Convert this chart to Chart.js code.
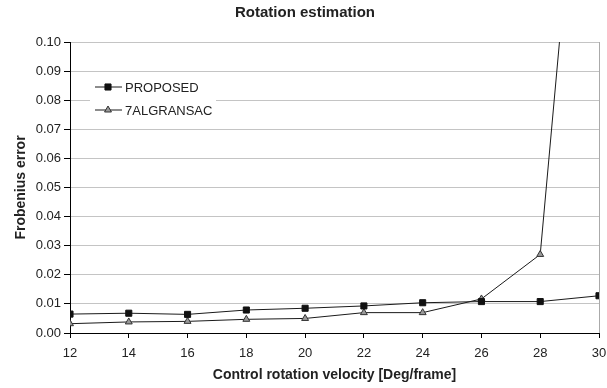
<!DOCTYPE html>
<html>
<head>
<meta charset="utf-8">
<script src="https://cdn.jsdelivr.net/npm/chart.js@4/dist/chart.umd.min.js"></script>
<style>
  body { margin: 0; background: #fff; }
  #rot { display: block; }
</style>
</head>
<body>
<canvas id="rot" width="607" height="388"></canvas>
<script>
// control rotation velocity (deg/frame) and Frobenius error per method
var velocity = [12, 14, 16, 18, 20, 22, 24, 26, 28, 30];
var proposed = [0.0065, 0.0068, 0.0064, 0.0079, 0.0085, 0.0093, 0.0104, 0.0108, 0.0108, 0.0128];
var ransac7 = [0.0032, 0.0038, 0.0040, 0.0047, 0.0050, 0.0070, 0.0070, 0.0117, 0.0270, 0.2500];
var yTicks = [0, 0.01, 0.02, 0.03, 0.04, 0.05, 0.06, 0.07, 0.08, 0.09, 0.10];

var FONT = "'Liberation Sans', Arial, sans-serif";

function toPoints(vals) {
  return vals.map(function (v, i) { return { x: velocity[i], y: v }; });
}

// title and the in-plot legend
var decor = {
  id: "decor",
  afterDraw: function (chart) {
    var c = chart.ctx;
    c.save();
    c.fillStyle = "#222";
    c.font = "bold 15px " + FONT;
    c.textAlign = "center";
    c.textBaseline = "middle";
    c.fillText("Rotation estimation", 305, 13);

    c.fillStyle = "#fff";
    c.fillRect(90, 76, 126, 44);
    c.font = "13px " + FONT;
    c.textAlign = "left";
    chart.data.datasets.forEach(function (ds, i) {
      var y = 87 + i * 23;
      c.strokeStyle = ds.borderColor;
      c.lineWidth = 1;
      c.beginPath();
      c.moveTo(95, y);
      c.lineTo(122, y);
      c.stroke();
      c.fillStyle = ds.pointBackgroundColor;
      c.strokeStyle = ds.pointBorderColor;
      Chart.helpers.drawPoint(c, {
        pointStyle: ds.pointStyle,
        radius: ds.pointRadius,
        borderWidth: 1
      }, 108, y);
      c.fillStyle = "#222";
      c.fillText(ds.label, 125, y + 1);
    });
    c.restore();
  }
};

var ctx = document.getElementById("rot");
var chart = new Chart(ctx, {
  type: "line",
  data: {
    datasets: [
      {
        label: "PROPOSED",
        data: toPoints(proposed),
        borderColor: "#1a1a1a",
        borderWidth: 1,
        pointStyle: "rect",
        pointRadius: 4.3,
        pointBackgroundColor: "#111",
        pointBorderColor: "#111",
        pointBorderWidth: 1
      },
      {
        label: "7ALGRANSAC",
        data: toPoints(ransac7),
        borderColor: "#1a1a1a",
        borderWidth: 1,
        pointStyle: "triangle",
        pointRadius: 4,
        pointBackgroundColor: "#999",
        pointBorderColor: "#333",
        pointBorderWidth: 1
      }
    ]
  },
  options: {
    responsive: false,
    animation: false,
    layout: { padding: { top: 42, right: 8, left: 0, bottom: 0 } },
    plugins: {
      legend: { display: false },
      tooltip: { enabled: false }
    },
    scales: {
      x: {
        type: "linear",
        min: 12,
        max: 30,
        afterFit: function (s) {
          s.height = 55;
          s.paddingLeft = 0;
          s.paddingRight = 0;
        },
        ticks: {
          stepSize: 2,
          padding: 8,
          color: "#222",
          font: { family: FONT, size: 13 }
        },
        grid: {
          color: function (c) { return c.tick && c.tick.value === 30 ? "#aaa" : "rgba(0,0,0,0)"; },
          tickColor: "#000",
          tickLength: 5
        },
        border: { color: "#000", width: 1 },
        title: {
          display: true,
          text: "Control rotation velocity [Deg/frame]",
          color: "#222",
          font: { family: FONT, size: 14, weight: "bold" },
          padding: { top: 0, bottom: 4 }
        }
      },
      y: {
        min: 0,
        max: 0.1,
        afterFit: function (s) {
          s.width = 70;
          s.paddingTop = 0;
          s.paddingBottom = 0;
        },
        afterBuildTicks: function (s) {
          s.ticks = yTicks.map(function (v) { return { value: v }; });
        },
        ticks: {
          padding: 3,
          color: "#222",
          font: { family: FONT, size: 13 },
          callback: function (v) { return v.toFixed(2); }
        },
        grid: {
          color: "#c4c4c4",
          tickColor: "#000",
          tickLength: 6
        },
        border: { color: "#000", width: 1 },
        title: {
          display: true,
          text: "Frobenius error",
          color: "#222",
          font: { family: FONT, size: 14, weight: "bold" },
          padding: { top: 13, bottom: 0 }
        }
      }
    }
  },
  plugins: [decor]
});
</script>
</body>
</html>
